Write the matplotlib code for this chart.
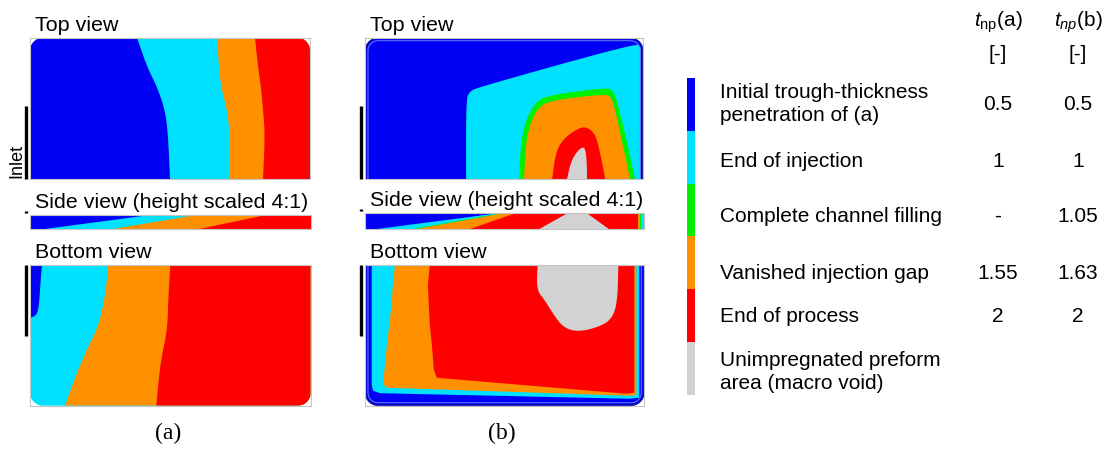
import numpy as np
import matplotlib
matplotlib.use("Agg")
import matplotlib.pyplot as plt
from matplotlib.patches import Polygon
from matplotlib.colors import ListedColormap

plt.rcParams["font.family"] = ["Liberation Sans", "DejaVu Sans"]
plt.rcParams["mathtext.fontset"] = "custom"
plt.rcParams["mathtext.rm"] = "Liberation Sans"
plt.rcParams["mathtext.it"] = "Liberation Sans:italic"

# plate in drawing units (length along flow, width across); side views use z = 0..1
PLATE_L = 280.0
PLATE_W = 141.0
CORNER_R = 13.0

# process stages, legend order
stage_labels = [
    "Initial trough-thickness\npenetration of (a)",
    "End of injection",
    "Complete channel filling",
    "Vanished injection gap",
    "End of process",
    "Unimpregnated preform\narea (macro void)",
]
stage_colors = ["#0000F5", "#00E1FF", "#00F000", "#FF9000", "#FF0000", "#D2D2D2"]
tnp_a = ["0.5", "1", "-", "1.55", "2", ""]
tnp_b = ["0.5", "1", "1.05", "1.63", "2", ""]
PEN, INJ, CHAN, GAP, END, VOID = range(6)

# (a) top view: flow fronts, x position of each front at a given y
top_a_y = [0, 29, 49, 72, 96, 141]
top_a_inj_x = [107, 117, 127, 135, 138, 140]
top_a_gap_x = [187, 189, 191, 197, 200, 200]
top_a_end_x = [225, 228, 231, 233, 235, 233]

# (a) bottom view
bot_a_pen_y = [0, 10, 25, 40, 50, 53.3]
bot_a_pen_x = [12, 11, 10, 9, 7, 0]
bot_a_gap_y = [0, 32, 62, 82, 105, 132, 141]
bot_a_gap_x = [78, 75, 68, 58, 48, 38, 35]
bot_a_end_y = [0, 32, 65, 98, 141]
bot_a_end_x = [140, 138, 137, 130, 126]

# (a) side view: fronts as (x at bottom, x at top)
side_a_inj = (15, 120)
side_a_gap = (83, 165)
side_a_end = (168, 235)

# (b) top view: free edges of each region, running from plate edge to plate edge
top_b_inj_x = [101.7, 101.7, 105, 113.3, 272.5, 277]
top_b_inj_y = [141, 62.3, 54, 49.6, 5.6, 9]
top_b_chan_x = [155, 156.7, 161.7, 171.7, 185, 241.7, 250, 255, 263.3, 271.7]
top_b_chan_y = [141, 105.6, 82.3, 64, 57.3, 50, 52.3, 69, 102.3, 141]
top_b_gap_x = [160, 161.7, 166.7, 175, 188.3, 241.7, 247.7, 251.7, 258.3, 266.7]
top_b_gap_y = [141, 105.6, 84, 69, 62.3, 56.3, 59, 72.3, 102.3, 141]
top_b_end_x = [188.3, 191.7, 198.3, 211.7, 221.7, 231.7, 236.7, 241.7]
top_b_end_y = [141, 115.6, 102.3, 92, 88.3, 95.6, 115.6, 141]
top_b_void_x = [203.3, 206.7, 211.7, 218.3, 221.7, 223.3, 223.3]
top_b_void_y = [141, 125.6, 115.6, 109, 110.6, 125.6, 141]

# (b) bottom view regions
bot_b_inj_x = [6.7, 275, 275, 265, 15, 8, 6.7]
bot_b_inj_y = [0, 0, 133, 134, 128.5, 126, 120]
bot_b_gap_x = [30, 272, 272, 265, 22, 19, 19, 22, 26, 28]
bot_b_gap_y = [0, 0, 130.5, 131, 123, 120, 110, 80, 45, 20]
bot_b_end_x = [65, 270, 270, 262, 72, 69, 67, 65, 63]
bot_b_end_y = [0, 0, 128, 129, 113, 105, 80, 60, 20]
bot_b_void_x = [173, 172, 180, 188, 198, 212, 232, 247, 253, 254]
bot_b_void_y = [0, 25, 35, 48, 62, 67, 63, 55, 38, 0]

# (b) side view
side_b_inj = (12, 135)
side_b_chan = (48, 137)
side_b_gap = (52, 140)
side_b_end = (105, 152)
side_b_void_x = [175, 245, 223, 203]
side_b_void_z = [0, 0, 1, 1]
side_b_end2 = (245, 223)
side_b_rim = [(GAP, 273.5), (CHAN, 275.5), (INJ, 277)]

FIG_W, FIG_H = 1111, 455


def px_axes(fig, x0, y0, x1, y1):
    """Axes placed by pixel box (origin top-left)."""
    return fig.add_axes([x0 / FIG_W, 1 - y1 / FIG_H, (x1 - x0) / FIG_W, (y1 - y0) / FIG_H])


def chaikin(xs, ys, n_iter=3):
    """Corner-cutting smoothing of an open polyline, end points kept."""
    pts = np.column_stack([xs, ys]).astype(float)
    for _ in range(n_iter):
        q = 0.75 * pts[:-1] + 0.25 * pts[1:]
        r = 0.25 * pts[:-1] + 0.75 * pts[1:]
        mid = np.empty((2 * len(q), 2))
        mid[0::2] = q
        mid[1::2] = r
        pts = np.vstack([pts[:1], mid, pts[-1:]])
    return pts


def region(xs, ys, closing=()):
    pts = chaikin(xs, ys)
    if len(closing):
        pts = np.vstack([pts, np.asarray(closing, dtype=float)])
    return pts


def front(ys, xs):
    # everything downstream of a smoothed flow front
    return region(xs, ys, [(PLATE_L, ys[-1]), (PLATE_L, ys[0])])


def plate_outline(round_side, inset=0.0, n=16):
    x0, x1, y0 = inset, PLATE_L - inset, inset
    r = max(CORNER_R - inset, 1.0)
    t1 = np.linspace(np.pi, 1.5 * np.pi, n)
    t2 = np.linspace(1.5 * np.pi, 2 * np.pi, n)
    arc1 = np.column_stack([x0 + r + r * np.cos(t1), y0 + r + r * np.sin(t1)])
    arc2 = np.column_stack([x1 - r + r * np.cos(t2), y0 + r + r * np.sin(t2)])
    pts = np.vstack([[x0, PLATE_W], arc1, arc2, [x1, PLATE_W]])
    if round_side == "bottom":
        pts[:, 1] = PLATE_W - pts[:, 1]
    return pts


def style_box(ax):
    ax.set_xticks([])
    ax.set_yticks([])
    for sp in ax.spines.values():
        sp.set_color("#C4C4C4")
        sp.set_linewidth(0.8)


def draw_plan(ax, base, layers, round_side, rim=False):
    ax.set_xlim(0, PLATE_L)
    ax.set_ylim(PLATE_W, 0)
    style_box(ax)
    plate = Polygon(plate_outline(round_side), closed=True,
                    facecolor=stage_colors[base], edgecolor="none")
    ax.add_patch(plate)
    for stage, pts in layers:
        patch = Polygon(pts, closed=True, facecolor=stage_colors[stage], edgecolor="none")
        ax.add_patch(patch)
        patch.set_clip_path(plate)
    if rim:
        outer = plate_outline(round_side, inset=0.6)
        inner = plate_outline(round_side, inset=3.0)
        ax.plot(outer[:, 0], outer[:, 1], color="#12129A", lw=1.0)
        ax.plot(inner[:, 0], inner[:, 1], color="#6A84F0", lw=0.7)


def side_polygon(fr):
    xb, xt = fr
    return [(xb, 0), (PLATE_L, 0), (PLATE_L, 1), (xt, 1)]


def draw_side(ax, layers):
    ax.set_xlim(0, PLATE_L)
    ax.set_ylim(0, 1)
    style_box(ax)
    ax.add_patch(Polygon([(0, 0), (PLATE_L, 0), (PLATE_L, 1), (0, 1)],
                         facecolor=stage_colors[PEN], edgecolor="none"))
    for stage, pts in layers:
        ax.add_patch(Polygon(pts, closed=True, facecolor=stage_colors[stage], edgecolor="none"))


def add_title(ax, text):
    ax.annotate(text, xy=(0, 1), xycoords="axes fraction", xytext=(5, 7),
                textcoords="offset pixels", ha="left", va="baseline", fontsize=15.4)


def add_inlet(ax, y_from, y_to):
    ax.plot([-4, -4], [y_from, y_to], color="black", lw=2.4, clip_on=False,
            solid_capstyle="butt")


fig = plt.figure(figsize=(FIG_W / 100, FIG_H / 100), dpi=100)

# ---- case (a)
ax = px_axes(fig, 30, 37.7, 310, 179)
draw_plan(ax, PEN, [
    (INJ, front(top_a_y, top_a_inj_x)),
    (GAP, front(top_a_y, top_a_gap_x)),
    (END, front(top_a_y, top_a_end_x)),
], "top")
add_title(ax, "Top view")
add_inlet(ax, PLATE_W / 2 - 2, PLATE_W)

ax = px_axes(fig, 30, 215, 311, 228.5)
draw_side(ax, [
    (INJ, side_polygon(side_a_inj)),
    (GAP, side_polygon(side_a_gap)),
    (END, side_polygon(side_a_end)),
])
add_title(ax, "Side view (height scaled 4:1)")
add_inlet(ax, 1.15, 1.3)

ax = px_axes(fig, 30, 265, 310.7, 405.7)
draw_plan(ax, INJ, [
    (PEN, region(bot_a_pen_x, bot_a_pen_y, [(0, 0)])),
    (GAP, front(bot_a_gap_y, bot_a_gap_x)),
    (END, front(bot_a_end_y, bot_a_end_x)),
], "bottom")
add_title(ax, "Bottom view")
add_inlet(ax, 0, PLATE_W / 2 + 1)

# ---- case (b)
ax = px_axes(fig, 365, 37.7, 643.3, 179)
draw_plan(ax, PEN, [
    (INJ, region(top_b_inj_x, top_b_inj_y, [(top_b_inj_x[-1], PLATE_W)])),
    (CHAN, region(top_b_chan_x, top_b_chan_y)),
    (GAP, region(top_b_gap_x, top_b_gap_y)),
    (END, region(top_b_end_x, top_b_end_y)),
    (VOID, region(top_b_void_x, top_b_void_y)),
], "top", rim=True)
add_title(ax, "Top view")
add_inlet(ax, PLATE_W / 2 - 2, PLATE_W)

ax = px_axes(fig, 365, 213.3, 644, 229)
layers = [
    (INJ, side_polygon(side_b_inj)),
    (CHAN, side_polygon(side_b_chan)),
    (GAP, side_polygon(side_b_gap)),
    (END, side_polygon(side_b_end)),
    (VOID, list(zip(side_b_void_x, side_b_void_z))),
    (END, side_polygon(side_b_end2)),
]
layers += [(stage, side_polygon((x, x))) for stage, x in side_b_rim]
draw_side(ax, layers)
add_title(ax, "Side view (height scaled 4:1)")
add_inlet(ax, 1.15, 1.3)

ax = px_axes(fig, 365, 265, 644.3, 405.7)
draw_plan(ax, PEN, [
    (INJ, list(zip(bot_b_inj_x, bot_b_inj_y))),
    (GAP, list(zip(bot_b_gap_x, bot_b_gap_y))),
    (END, list(zip(bot_b_end_x, bot_b_end_y))),
    (VOID, region(bot_b_void_x, bot_b_void_y)),
], "bottom", rim=True)
add_title(ax, "Bottom view")
add_inlet(ax, 0, PLATE_W / 2 + 1)

# ---- colour key
cax = px_axes(fig, 687, 78.3, 695, 395)
cax.imshow(np.arange(len(stage_colors))[:, None], cmap=ListedColormap(stage_colors),
           aspect="auto", interpolation="nearest")
cax.axis("off")

# ---- text layer in pixel coordinates
tax = fig.add_axes([0, 0, 1, 1])
tax.set_xlim(0, FIG_W)
tax.set_ylim(FIG_H, 0)
tax.axis("off")
tax.patch.set_alpha(0)

row_y = [104, 161.7, 216.7, 273.3, 316.7, 372]
col_a, col_b = 998, 1078
for label, va_, vb_, y in zip(stage_labels, tnp_a, tnp_b, row_y):
    tax.text(720, y, label, ha="left", va="center", fontsize=15, linespacing=1.3)
    tax.text(col_a, y, va_, ha="center", va="center", fontsize=15)
    tax.text(col_b, y, vb_, ha="center", va="center", fontsize=15)

tax.text(col_a, 22, r"$t_{\mathrm{np}}$(a)", ha="center", va="center", fontsize=15)
tax.text(col_b, 22, r"$t_{np}$(b)", ha="center", va="center", fontsize=15)
tax.text(col_a, 55, "[-]", ha="center", va="center", fontsize=15)
tax.text(col_b, 55, "[-]", ha="center", va="center", fontsize=15)

tax.text(16.5, 161, "Inlet", rotation=90, ha="center", va="center", fontsize=13)
tax.text(168, 433, "(a)", ha="center", va="center", fontsize=17, family="Liberation Serif")
tax.text(502, 433, "(b)", ha="center", va="center", fontsize=17, family="Liberation Serif")

fig.savefig("out.png", dpi=100)
